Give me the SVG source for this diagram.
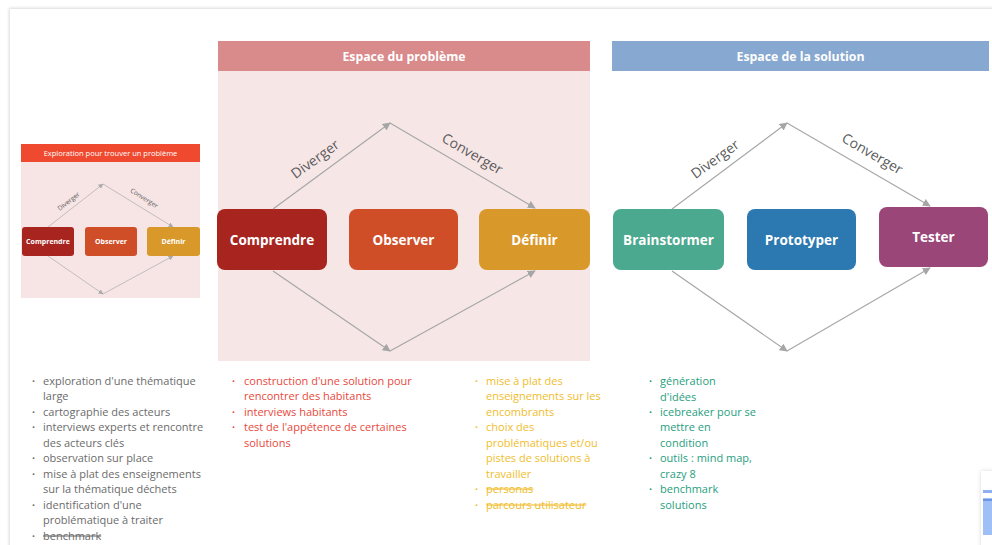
<svg xmlns="http://www.w3.org/2000/svg" width="992" height="545" viewBox="0 0 992 545">
<style>
text{font-family:"Open Sans","Noto Sans","Liberation Sans",sans-serif}
.hd{font-weight:bold;fill:#fff;font-size:12.3px;text-anchor:middle}
.nd{font-weight:bold;fill:#fff;font-size:13.5px;text-anchor:middle}
.nds{font-weight:bold;fill:#fff;font-size:7px;text-anchor:middle}
.lbl{fill:#5a5a5a;font-size:14px;text-anchor:middle}
.lbls{fill:#5a5a5a;font-size:6.5px;text-anchor:middle}
.ln{fill:none;stroke:#a6a6a6;stroke-width:1.1}
.lns{fill:none;stroke:#aaaaaa;stroke-width:0.7}
.li{font-size:11px}
.b{font-size:8px}
.g{fill:#6b6b6b}.r{fill:#e8493c}.y{fill:#f0bd2c}.t{fill:#1f9e80}
.st{text-decoration:line-through}
</style>
<defs>
<marker id="ah" viewBox="0 0 10 10" refX="9" refY="5" markerWidth="8" markerHeight="8" markerUnits="userSpaceOnUse" orient="auto"><path d="M0,0 L10,5 L0,10 z" fill="#a6a6a6"/></marker>
<marker id="ahs" viewBox="0 0 10 10" refX="9" refY="5" markerWidth="5" markerHeight="5" markerUnits="userSpaceOnUse" orient="auto"><path d="M0,0 L10,5 L0,10 z" fill="#aaaaaa"/></marker>
<filter id="sh" x="-5%" y="-5%" width="110%" height="110%"><feDropShadow dx="-1" dy="-1" stdDeviation="1.5" flood-color="#000" flood-opacity="0.15"/></filter>
<filter id="sh2" x="-50%" y="-20%" width="200%" height="140%"><feDropShadow dx="0" dy="0" stdDeviation="2" flood-color="#000" flood-opacity="0.15"/></filter>
</defs>
<rect width="992" height="545" fill="#fff"/>
<rect x="10" y="9" width="1000" height="560" fill="#fff" filter="url(#sh)"/>

<!-- small exploration diagram -->
<g id="exploration">
<rect x="21" y="162" width="179" height="136" fill="#f7e5e5"/>
<rect x="21" y="144" width="179" height="18" fill="#ef4a30"/>
<text x="110.5" y="156" font-size="7.5" fill="#fff" text-anchor="middle">Exploration pour trouver un problème</text>
</g>
<g id="s-comprendre"><rect x="22" y="227" width="52" height="29" rx="3" fill="#a8251f"/><text class="nds" x="48" y="244">Comprendre</text></g>
<g id="s-observer"><rect x="85" y="227" width="52" height="29" rx="3" fill="#d04e27"/><text class="nds" x="111" y="244">Observer</text></g>
<g id="s-definir"><rect x="147" y="227" width="53" height="29" rx="3" fill="#d9992a"/><text class="nds" x="173.5" y="244">Définir</text></g>

<!-- problem space -->
<g id="espace-probleme">
<rect x="218" y="71" width="372" height="290" fill="#f7e6e6"/>
<rect x="218" y="41" width="372" height="30" fill="#d98a8a"/>
<text class="hd" x="404" y="61">Espace du problème</text>
</g>
<g id="comprendre"><rect x="217" y="209" width="110" height="61" rx="8" fill="#a8251f"/><text class="nd" x="272" y="245">Comprendre</text></g>
<g id="observer"><rect x="349" y="209" width="109" height="61" rx="8" fill="#d04e27"/><text class="nd" x="403.5" y="245">Observer</text></g>
<g id="definir"><rect x="479" y="209" width="111" height="61" rx="8" fill="#d9992a"/><text class="nd" x="534.5" y="245">Définir</text></g>

<!-- solution space -->
<g id="espace-solution">
<rect x="612" y="41" width="377" height="30" fill="#87a8d0"/>
<text class="hd" x="800.5" y="61">Espace de la solution</text>
</g>
<g id="brainstormer"><rect x="613" y="209" width="111" height="61" rx="8" fill="#4aa98e"/><text class="nd" x="668.5" y="245">Brainstormer</text></g>
<g id="prototyper"><rect x="747" y="209" width="109" height="61" rx="8" fill="#2b79b0"/><text class="nd" x="801.5" y="245">Prototyper</text></g>
<g id="tester"><rect x="879" y="207" width="109" height="60" rx="8" fill="#9b4678"/><text class="nd" x="933.5" y="242">Tester</text></g>

<!-- connectors -->
<g id="connectors">
<path class="lns" d="M48,227 L103,184" marker-end="url(#ahs)"/>
<path class="lns" d="M103,184 L173,227" marker-end="url(#ahs)"/>
<path class="lns" d="M48,256 L103,294" marker-end="url(#ahs)"/>
<path class="lns" d="M103,294 L173,256" marker-end="url(#ahs)"/>
<text class="lbls" transform="translate(70,203) rotate(-38)">Diverger</text>
<text class="lbls" transform="translate(143,200) rotate(32)">Converger</text>

<path class="ln" d="M273,209 L390,123" marker-end="url(#ah)"/>
<path class="ln" d="M390,123 L535,208" marker-end="url(#ah)"/>
<path class="ln" d="M273,271 L390,351" marker-end="url(#ah)"/>
<path class="ln" d="M390,351 L535,271" marker-end="url(#ah)"/>
<text class="lbl" transform="translate(318,163) rotate(-36)">Diverger</text>
<text class="lbl" transform="translate(470,158) rotate(30)">Converger</text>

<path class="ln" d="M672,209 L787,123" marker-end="url(#ah)"/>
<path class="ln" d="M787,123 L930,206" marker-end="url(#ah)"/>
<path class="ln" d="M672,271 L787,351" marker-end="url(#ah)"/>
<path class="ln" d="M787,351 L930,268" marker-end="url(#ah)"/>
<text class="lbl" transform="translate(718,163) rotate(-36)">Diverger</text>
<text class="lbl" transform="translate(870,158) rotate(30)">Converger</text>
</g>

<!-- lists -->
<g id="liste-exploration" class="li g">
<text class="b" x="32" y="384">•</text><text x="43" y="385">exploration d'une thématique</text>
<text x="43" y="400">large</text>
<text class="b" x="32" y="415">•</text><text x="43" y="416">cartographie des acteurs</text>
<text class="b" x="32" y="430">•</text><text x="43" y="431">interviews experts et rencontre</text>
<text x="43" y="447">des acteurs clés</text>
<text class="b" x="32" y="461">•</text><text x="43" y="462">observation sur place</text>
<text class="b" x="32" y="477">•</text><text x="43" y="478">mise à plat des enseignements</text>
<text x="43" y="493">sur la thématique déchets</text>
<text class="b" x="32" y="508">•</text><text x="43" y="509">identification d'une</text>
<text x="43" y="524">problématique à traiter</text>
<text class="b" x="32" y="539">•</text><text class="st" x="43" y="540">benchmark</text>
</g>
<g id="liste-observer" class="li r">
<text class="b" x="232" y="384">•</text><text x="244" y="385">construction d'une solution pour</text>
<text x="244" y="400">rencontrer des habitants</text>
<text class="b" x="232" y="415">•</text><text x="244" y="416">interviews habitants</text>
<text class="b" x="232" y="430">•</text><text x="244" y="431">test de l'appétence de certaines</text>
<text x="244" y="447">solutions</text>
</g>
<g id="liste-definir" class="li y">
<text class="b" x="475" y="384">•</text><text x="486" y="385">mise à plat des</text>
<text x="486" y="400">enseignements sur les</text>
<text x="486" y="416">encombrants</text>
<text class="b" x="475" y="430">•</text><text x="486" y="431">choix des</text>
<text x="486" y="447">problématiques et/ou</text>
<text x="486" y="462">pistes de solutions à</text>
<text x="486" y="478">travailler</text>
<text class="b" x="475" y="492">•</text><text class="st" x="486" y="493">personas</text>
<text class="b" x="475" y="508">•</text><text class="st" x="486" y="509">parcours utilisateur</text>
</g>
<g id="liste-brainstormer" class="li t">
<text class="b" x="649" y="384">•</text><text x="660" y="385">génération</text>
<text x="660" y="401">d'idées</text>
<text class="b" x="649" y="415">•</text><text x="660" y="416">icebreaker pour se</text>
<text x="660" y="431">mettre en</text>
<text x="660" y="447">condition</text>
<text class="b" x="649" y="461">•</text><text x="660" y="462">outils : mind map,</text>
<text x="660" y="478">crazy 8</text>
<text class="b" x="649" y="492">•</text><text x="660" y="493">benchmark</text>
<text x="660" y="509">solutions</text>
</g>

<!-- partial widget bottom right -->
<g id="widget">
<rect x="981" y="471" width="20" height="80" fill="#fff" filter="url(#sh2)"/>
<rect x="983" y="490" width="10" height="3" fill="#8fb0f0"/>
<rect x="983" y="498" width="10" height="37" fill="#9fbff7"/>
<rect x="983" y="499" width="10" height="2" fill="#6f95e6"/>
</g>
</svg>
